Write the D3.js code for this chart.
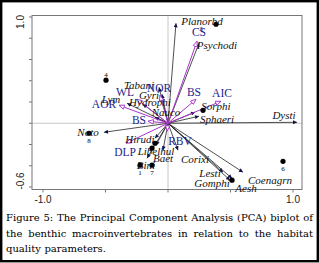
<!DOCTYPE html>
<html>
<head>
<meta charset="utf-8">
<script src="https://cdn.jsdelivr.net/npm/d3@7"></script>
<style>
  body { margin: 0; background: #fff; }
  svg { display: block; }
</style>
</head>
<body>
<svg id="chart" width="319" height="263"></svg>
<script>
// environment variables (purple arrows)
const envNames = ["CS", "NOR", "WL", "AOR", "BS", "BS", "AIC", "RBV", "DLP"];
const envX = [0.232, -0.064, -0.248, -0.392, -0.16, 0.224, 0.424, -0.008, -0.336];
const envY = [0.772, 0.264, 0.226, 0.169, 0.019, 0.226, 0.207, -0.075, -0.188];
const envLabelX = [0.248, -0.072, -0.344, -0.512, -0.232, 0.208, 0.432, 0.096, -0.344];
const envLabelY = [0.856, 0.329, 0.292, 0.179, 0.028, 0.292, 0.282, -0.169, -0.273];

// taxa (black arrows)
const taxa = ["Planorbd", "Psychodi", "Tabani", "Gyri", "Hydrophi", "Lym", "Nauco", "Noto",
  "Hirudi", "Libelhul", "Baet", "Bini", "Corixi", "Sorphi", "Sphaeri", "Dysti",
  "Lesti", "Gomphi", "Aesh", "Coenagrn"];
const taxaX = [0.064, 0.248, -0.072, -0.048, -0.2, -0.328, -0.104, -0.512,
  -0.104, -0.096, -0.04, -0.168, 0.08, 0.216, 0.248, 1.032,
  0.44, 0.496, 0.512, 0.6];
const taxaY = [0.941, 0.753, 0.339, 0.273, 0.179, 0.188, 0.056, -0.085,
  -0.141, -0.207, -0.254, -0.329, -0.254, 0.104, 0.066, 0.009,
  -0.461, -0.536, -0.518, -0.461];
const taxaLabelX = [0.272, 0.392, -0.232, -0.152, -0.144, -0.456, -0.016, -0.64,
  -0.224, -0.096, -0.04, -0.176, 0.216, 0.384, 0.392, 0.928,
  0.336, 0.352, 0.624, 0.816];
const taxaLabelY = [0.96, 0.734, 0.358, 0.264, 0.198, 0.226, 0.104, -0.085,
  -0.151, -0.264, -0.325, -0.395, -0.339, 0.16, 0.038, 0.075,
  -0.47, -0.565, -0.612, -0.536];

// sites
const siteIds = ["4", "3", "8", "1", "7", "6", "", "", "", ""];
const siteX = [-0.496, 0.384, -0.632, -0.224, -0.128, 0.92, 0.28, -0.104, -0.128, 0.512];
const siteY = [0.405, 0.932, -0.094, -0.395, -0.395, -0.358, 0.122, -0.188, -0.235, -0.536];
const siteLabelSide = ["above", "left", "below", "below", "below", "below", "below", "below", "below", "below"];

// axes
const xTicks = [-1.0, -0.5, 0, 0.5, 1.0];
const xTickLabels = ["-1.0", "", "", "", "1.0"];
const yTicks = [-0.6, -0.4, -0.2, 0, 0.2, 0.4, 0.6, 0.8, 1.0];
const yTickLabels = ["-0.6", "", "", "", "", "", "", "", "1.0"];

const captionLines = [
  "Figure 5: The Principal Component Analysis (PCA) biplot of",
  "the benthic macroinvertebrates in relation to the habitat",
  "quality parameters."
];

const svg = d3.select("#chart");
const x = d3.scaleLinear().domain([-1, 1]).range([43, 293]);
const y = d3.scaleLinear().domain([-0.6, 1.0]).range([187, 17]);
const box = { left: 32, right: 302, top: 15.5, bottom: 189.5 };

const purple = "#a733c9";
const navy = "#1d1d8f";

// outer frame
svg.append("rect")
  .attr("x", 1.2).attr("y", 1.2)
  .attr("width", 316.6).attr("height", 260)
  .attr("fill", "none").attr("stroke", "#000").attr("stroke-width", 2.4);

// markers
const defs = svg.append("defs");
defs.append("marker")
  .attr("id", "headBlack")
  .attr("viewBox", "0 0 10 10")
  .attr("refX", 10).attr("refY", 5)
  .attr("markerUnits", "userSpaceOnUse")
  .attr("markerWidth", 5).attr("markerHeight", 4)
  .attr("orient", "auto")
  .append("path")
  .attr("d", "M0,0 L10,5 L0,10 Z")
  .attr("fill", "#10104a");

defs.append("marker")
  .attr("id", "headPurple")
  .attr("viewBox", "0 0 12 12")
  .attr("refX", 11).attr("refY", 6)
  .attr("markerUnits", "userSpaceOnUse")
  .attr("markerWidth", 6.5).attr("markerHeight", 6.5)
  .attr("orient", "auto")
  .append("path")
  .attr("d", "M1,2 L11,6 L1,10 Z")
  .attr("fill", "#fff")
  .attr("stroke", purple)
  .attr("stroke-width", 1.6);

// zero lines
svg.append("line")
  .attr("x1", box.left).attr("x2", box.right)
  .attr("y1", y(0)).attr("y2", y(0))
  .attr("stroke", "#c8c8c8").attr("stroke-width", 1);
svg.append("line")
  .attr("x1", x(0)).attr("x2", x(0))
  .attr("y1", box.top).attr("y2", box.bottom)
  .attr("stroke", "#c8c8c8").attr("stroke-width", 1);

// plot box
svg.append("rect")
  .attr("x", box.left).attr("y", box.top)
  .attr("width", box.right - box.left).attr("height", box.bottom - box.top)
  .attr("fill", "none").attr("stroke", "#777").attr("stroke-width", 1);

// ticks
xTicks.forEach((t, i) => {
  svg.append("line")
    .attr("x1", x(t)).attr("x2", x(t))
    .attr("y1", box.bottom).attr("y2", box.bottom + 3)
    .attr("stroke", "#777");
  if (xTickLabels[i]) {
    svg.append("text")
      .attr("x", x(t)).attr("y", 203)
      .attr("text-anchor", "middle")
      .attr("font-family", "Liberation Sans, Arial, sans-serif")
      .attr("font-size", "10px")
      .attr("fill", "#222")
      .text(xTickLabels[i]);
  }
});
yTicks.forEach((t, i) => {
  svg.append("line")
    .attr("x1", box.left - 3).attr("x2", box.left)
    .attr("y1", y(t)).attr("y2", y(t))
    .attr("stroke", "#777");
  if (yTickLabels[i]) {
    const cy = y(t) + (t > 0 ? 5 : -6);
    svg.append("text")
      .attr("transform", `translate(24,${cy}) rotate(-90)`)
      .attr("text-anchor", "middle")
      .attr("font-family", "Liberation Sans, Arial, sans-serif")
      .attr("font-size", "10px")
      .attr("fill", "#222")
      .text(yTickLabels[i]);
  }
});

// taxa arrows
taxa.forEach((name, i) => {
  svg.append("line")
    .attr("x1", x(0)).attr("y1", y(0))
    .attr("x2", x(taxaX[i])).attr("y2", y(taxaY[i]))
    .attr("stroke", "#222").attr("stroke-width", 0.8)
    .attr("marker-end", "url(#headBlack)");
});

// environment arrows
envNames.forEach((name, i) => {
  svg.append("line")
    .attr("x1", x(0)).attr("y1", y(0))
    .attr("x2", x(envX[i])).attr("y2", y(envY[i]))
    .attr("stroke", purple).attr("stroke-width", 1)
    .attr("marker-end", "url(#headPurple)");
});

// sites
siteX.forEach((v, i) => {
  svg.append("circle")
    .attr("cx", x(v)).attr("cy", y(siteY[i]))
    .attr("r", 2.6).attr("fill", "#000");
  if (siteIds[i]) {
    let dx = 0, dy = 7.5;
    if (siteLabelSide[i] === "above") dy = -5;
    if (siteLabelSide[i] === "left") { dx = -15; dy = 5; }
    svg.append("text")
      .attr("x", x(v) + dx).attr("y", y(siteY[i]) + dy)
      .attr("text-anchor", "middle")
      .attr("dominant-baseline", "central")
      .attr("font-family", "Liberation Serif, serif")
      .attr("font-size", "7px")
      .text(siteIds[i]);
  }
});

// taxa labels
taxa.forEach((name, i) => {
  svg.append("text")
    .attr("x", x(taxaLabelX[i])).attr("y", y(taxaLabelY[i]))
    .attr("text-anchor", "middle")
    .attr("dominant-baseline", "central")
    .attr("font-family", "Liberation Serif, serif")
    .attr("font-style", "italic")
    .attr("font-size", "11px")
    .attr("fill", "#111")
    .text(name);
});

// environment labels
envNames.forEach((name, i) => {
  svg.append("text")
    .attr("x", x(envLabelX[i])).attr("y", y(envLabelY[i]))
    .attr("text-anchor", "middle")
    .attr("dominant-baseline", "central")
    .attr("font-family", "Liberation Serif, serif")
    .attr("font-size", "11.5px")
    .attr("fill", navy)
    .text(name);
});

// caption, justified by word spacing
const capLeft = 6, capRight = 313;
const capBase = [221, 237, 252];
captionLines.forEach((line, li) => {
  const words = line.split(" ");
  const g = svg.append("g");
  const nodes = words.map(w => g.append("text")
    .attr("y", capBase[li])
    .attr("font-family", "DejaVu Serif, serif")
    .attr("font-size", "10px")
    .attr("fill", "#000")
    .text(w));
  const widths = nodes.map(n => n.node().getComputedTextLength());
  const total = d3.sum(widths);
  const last = li === captionLines.length - 1;
  const gap = last ? 3.5 : (capRight - capLeft - total) / (words.length - 1);
  let cx = capLeft;
  nodes.forEach((n, k) => {
    n.attr("x", cx);
    cx += widths[k] + gap;
  });
});
</script>
</body>
</html>
